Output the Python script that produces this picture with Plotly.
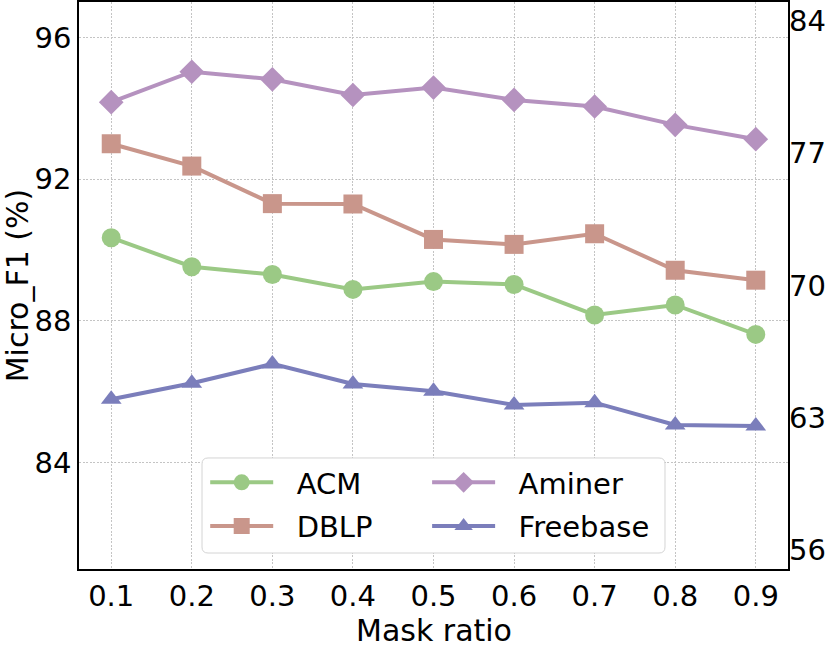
import plotly.graph_objects as go

# mask ratios on the x axis
ratios = [0.1, 0.2, 0.3, 0.4, 0.5, 0.6, 0.7, 0.8, 0.9]

# Micro_F1 (%)
acm = [90.35, 89.53, 89.31, 88.89, 89.11, 89.03, 88.17, 88.45, 87.62]   # left axis
dblp = [93.00, 92.37, 91.31, 91.30, 90.30, 90.16, 90.46, 89.43, 89.15]  # left axis
aminer = [79.70, 81.31, 80.91, 80.08, 80.47, 79.82, 79.47, 78.50, 77.74]  # right axis
freebase = [63.98, 64.83, 65.85, 64.79, 64.40, 63.68, 63.80, 62.62, 62.57]  # right axis

left_ticks = [84, 88, 92, 96]
right_ticks = [56, 63, 70, 77, 84]

FONT = "DejaVu Sans"
sp = "\u00a0\u00a0"

fig = go.Figure()

series = [
    ("ACM", acm, "y", "circle", 19, "#9BC985", "legend"),
    ("DBLP", dblp, "y", "square", 19, "#C9968B", "legend"),
    ("Aminer", aminer, "y2", "diamond", 19, "#B592BF", "legend2"),
    ("Freebase", freebase, "y2", "triangle-up", 18, "#7B7EBB", "legend2"),
]

for name, vals, yax, sym, size, col, leg in series:
    fig.add_trace(go.Scatter(
        x=ratios, y=vals, yaxis=yax, name=sp + name,
        mode="lines+markers",
        line=dict(color=col, width=4),
        marker=dict(symbol=sym, size=size, color=col),
        legend=leg, legendgroup=name,
    ))

# rounded legend frame (matplotlib style)
x0, x1 = 0.1735, 0.8265
y0, y1 = 0.0282, 0.1958
rx, ry = 6 / 709, 6 / 567
path = (f"M{x0+rx},{y1} L{x1-rx},{y1} Q{x1},{y1} {x1},{y1-ry} "
        f"L{x1},{y0+ry} Q{x1},{y0} {x1-rx},{y0} L{x0+rx},{y0} "
        f"Q{x0},{y0} {x0},{y0+ry} L{x0},{y1-ry} Q{x0},{y1} {x0+rx},{y1} Z")
fig.add_shape(type="path", path=path, xref="paper", yref="paper",
              fillcolor="white", line=dict(color="#d4d4d4", width=1),
              layer="above")

# x axis title
fig.add_annotation(text="Mask ratio", xref="paper", yref="paper",
                   x=0.5, y=-0.108, xanchor="center", yanchor="middle",
                   showarrow=False, font=dict(family=FONT, size=30, color="black"))

legend_common = dict(
    orientation="v", yanchor="middle", y=0.1138, xanchor="left",
    bgcolor="rgba(0,0,0,0)", borderwidth=0, itemwidth=63,
    tracegroupgap=3, traceorder="grouped",
    font=dict(family=FONT, size=29, color="black"),
)

grid = dict(showgrid=True, gridcolor="#c4c4c4", gridwidth=1, griddash="2px,1.5px")

fig.update_layout(
    width=831, height=648,
    margin=dict(l=79, r=43, t=2, b=79),
    paper_bgcolor="white", plot_bgcolor="white",
    font=dict(family=FONT, size=29, color="black"),
    showlegend=True,
    legend=dict(x=0.178, **legend_common),
    legend2=dict(x=0.491, **legend_common),
    xaxis=dict(
        range=[0.06, 0.94], tickvals=ratios,
        ticktext=[str(r) for r in ratios], **grid,
        showline=True, linecolor="black", linewidth=1.5, mirror=True,
        ticks="", zeroline=False, automargin=False,
    ),
    yaxis=dict(
        range=[81, 97], tickvals=left_ticks, **grid,
        showline=True, linecolor="black", linewidth=1.5, mirror=True,
        ticks="", zeroline=False, automargin=False,
        title=dict(text="Micro_F1 (%)", font=dict(size=30), standoff=2),
    ),
    yaxis2=dict(
        range=[55, 85], tickvals=right_ticks,
        overlaying="y", side="right", showgrid=False,
        showline=False, ticks="", zeroline=False, automargin=False,
    ),
)

fig.write_html("out.html", config={"displayModeBar": False},
               post_script="document.body.style.margin='0px';")
